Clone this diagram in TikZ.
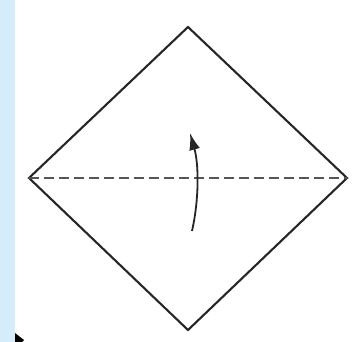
\documentclass[tikz,border=0pt]{standalone}
\usetikzlibrary{arrows.meta}
\definecolor{stripblue}{HTML}{D5EDFA}
\definecolor{foldgrey}{HTML}{555555}
\tikzset{
  paper/.style={draw=black!85, line width=2.1pt, line join=miter},
  foldline/.style={draw=foldgrey, line width=2.1pt, dash pattern=on 10pt off 5pt},
  foldarrow/.style={draw=black!85, line width=1.8pt, -{Latex[length=17pt,width=11pt]}}
}
\begin{document}
\begin{tikzpicture}[x=1pt,y=-1pt]
\useasboundingbox (0,0) rectangle (353,342);
\fill[white] (0,0) rectangle (353,342);
\fill[stripblue] (0,0) rectangle (15,342);
\coordinate (T) at (188,27);
\coordinate (L) at (29,178);
\coordinate (R) at (347,178);
\coordinate (B) at (188,330);
\draw[paper] (T) -- (R) -- (B) -- (L) -- cycle;
\draw[foldline] (L) -- (R);
\coordinate (a0) at (192,231);
\coordinate (a1) at (190,133);
\draw[foldarrow] (a0) .. controls (199,200) and (199,165) .. (a1);
\fill[black] (15,333) -- (24,340) -- (22,342) -- (15,342) -- cycle;
\end{tikzpicture}
\end{document}
